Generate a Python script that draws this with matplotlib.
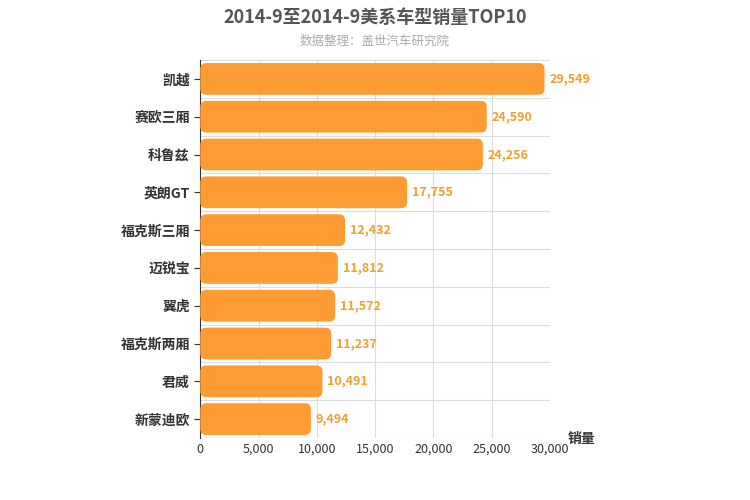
import matplotlib
matplotlib.use("Agg")
import matplotlib.pyplot as plt
from matplotlib.patches import FancyBboxPatch

plt.rcParams["font.family"] = ["Noto Sans CJK SC", "DejaVu Sans"]

models = ["凯越", "赛欧三厢", "科鲁兹", "英朗GT", "福克斯三厢", "迈锐宝", "翼虎", "福克斯两厢", "君威", "新蒙迪欧"]
sales = [29549, 24590, 24256, 17755, 12432, 11812, 11572, 11237, 10491, 9494]
xticks = [0, 5000, 10000, 15000, 20000, 25000, 30000]

fig = plt.figure(figsize=(7.5, 5), dpi=100)
ax = fig.add_axes([0.267, 0.124, 0.466, 0.756])
n = len(models)
ax.set_xlim(0, 30000)
ax.set_ylim(-0.5, n - 0.5)
ax.invert_yaxis()

# px -> data conversion for rounded corners
xpp = 30000 / 350.0
ypp = n / 378.0
h = 0.84
for i, v in enumerate(sales):
    p = FancyBboxPatch((0, i - h / 2), v, h,
                       boxstyle="round,pad=0,rounding_size=%f" % (6 * xpp),
                       mutation_aspect=ypp / xpp,
                       fc="#FF9B33", ec="none", zorder=3)
    ax.add_patch(p)
    ax.text(v + 400, i, f"{v:,}", va="center", ha="left", fontsize=9,
            color="#F0A030", fontweight="bold", zorder=4)

ax.set_yticks(range(n))
ax.set_yticklabels(models, fontsize=10, fontweight="bold", color="#333333")
ax.set_xticks(xticks)
ax.set_xticklabels([f"{t:,}" for t in xticks], fontsize=9, color="#333333")
for x in xticks[1:]:
    ax.axvline(x, color="#dddddd", lw=0.8, zorder=0)
for k in range(n + 1):
    ax.axhline(k - 0.5, color="#dddddd", lw=0.8, zorder=0)
for s in ["top", "right"]:
    ax.spines[s].set_visible(False)
ax.spines["bottom"].set_visible(False)
ax.spines["left"].set_color("#333333")
ax.tick_params(axis="y", length=4, color="#333333")
ax.tick_params(axis="x", length=0)

fig.text(0.5, 0.965, "2014-9至2014-9美系车型销量TOP10", ha="center", va="center",
         fontsize=13, fontweight="bold", color="#555555")
fig.text(0.5, 0.918, "数据整理：盖世汽车研究院", ha="center", va="center",
         fontsize=9, color="#aaaaaa")
fig.text(0.775, 0.122, "销量", ha="center", va="center", fontsize=10,
         fontweight="bold", color="#333333")

fig.savefig("out.png", dpi=100)
